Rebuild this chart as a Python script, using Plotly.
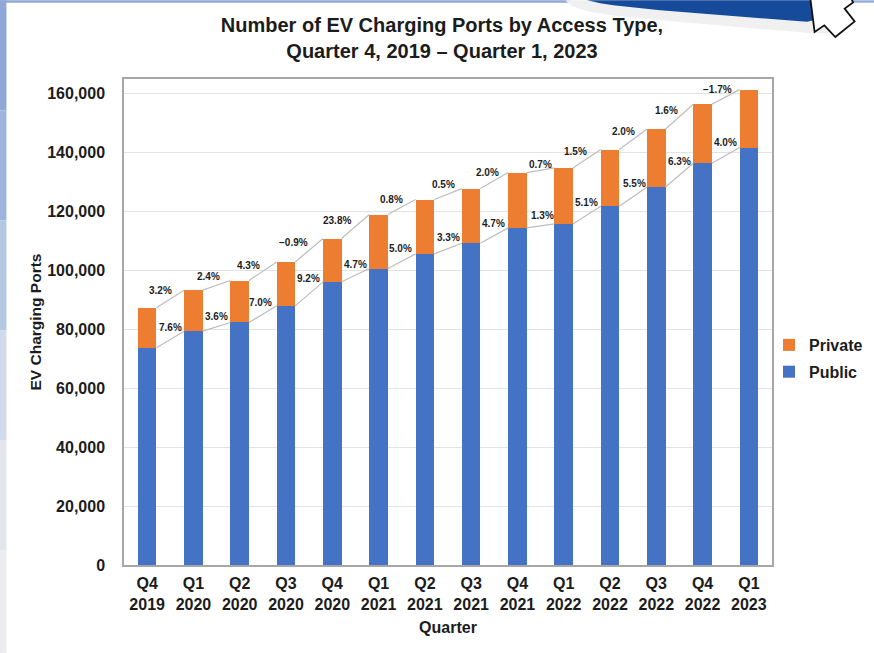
import plotly.graph_objects as go

quarters = ["Q4<br>2019", "Q1<br>2020", "Q2<br>2020", "Q3<br>2020", "Q4<br>2020", "Q1<br>2021", "Q2<br>2021",
            "Q3<br>2021", "Q4<br>2021", "Q1<br>2022", "Q2<br>2022", "Q3<br>2022", "Q4<br>2022", "Q1<br>2023"]
public = [73660, 79320, 82260, 87900, 96050, 100560, 105530, 109150, 114350, 115700, 121700, 128240, 136270, 141590]
total = [87220, 93220, 96500, 102800, 110730, 118870, 123960, 127680, 133120, 134690, 140900, 147900, 156270, 161250]
private = [t - p for t, p in zip(total, public)]

private_growth = ["3.2%", "2.4%", "4.3%", "−0.9%", "23.8%", "0.8%", "0.5%", "2.0%", "0.7%", "1.5%", "2.0%", "1.6%", "−1.7%"]
public_growth = ["7.6%", "3.6%", "7.0%", "9.2%", "4.7%", "5.0%", "3.3%", "4.7%", "1.3%", "5.1%", "5.5%", "6.3%", "4.0%"]

# label nudges from the connector midpoint, in pixels
top_dx = [-10, -8, -14, -16, -18, -10, -5, -7, 0, -11, -10, -13, -8]
top_dy = [8.5, 8.5, 6, 8, 6, 8, 10, 8, 6, 7.5, 8, 6.5, 7.5]
low_dx = [0, 0, -2, -1, 0, -1, 0, -1, 2, 0, 1, 0, 0]
low_dy = [12, 10, 12, 15, 11, 13, 11, 12, 10, 13, 13, 14, 13]

W, H = 874, 653
L, R, T, B = 124, 771.7, 78.7, 565
BLUE, ORANGE = "#4472C4", "#ED7D31"
FONT = "Liberation Sans, Arial, sans-serif"
INK = "#1c1c1c"
BAR_FRAC = 0.4


def px(x):
    return (x - L) / (R - L)


def py(y):
    return (B - y) / (B - T)


def poly(points, fill, line=None, width=0):
    d = "M" + " L".join(f"{px(a):.5f},{py(b):.5f}" for a, b in points) + " Z"
    return dict(type="path", xref="paper", yref="paper", path=d, fillcolor=fill,
                line=dict(color=line or fill, width=width), layer="above")


def box(x0, y0, x1, y1, fill):
    return dict(type="rect", xref="paper", yref="paper", x0=px(x0), x1=px(x1), y0=py(y0), y1=py(y1),
                fillcolor=fill, line=dict(width=0), layer="below")


fig = go.Figure()
xs = list(range(len(quarters)))
fig.add_bar(x=xs, y=public, name="<b>Public</b>", legendgroup="pub", legendrank=2,
            marker=dict(color=BLUE, line=dict(width=0)), width=BAR_FRAC)
fig.add_bar(x=xs, y=private, name="<b>Private</b>", legendgroup="pri", legendrank=1,
            marker=dict(color=ORANGE, line=dict(width=0)), width=BAR_FRAC)

for series in (total, public):
    cx, cy = [], []
    for i in range(len(series) - 1):
        cx += [i + BAR_FRAC / 2, i + 1 - BAR_FRAC / 2, None]
        cy += [series[i], series[i + 1], None]
    fig.add_scatter(x=cx, y=cy, mode="lines", line=dict(color="#BDBDBD", width=1.2),
                    showlegend=False, hoverinfo="skip")

annotations = []
for series, labels, dxs, dys in ((total, private_growth, top_dx, top_dy), (public, public_growth, low_dx, low_dy)):
    for i, text in enumerate(labels):
        annotations.append(dict(x=i + 0.5, y=(series[i] + series[i + 1]) / 2, xref="x", yref="y", text=f"<b>{text}</b>",
                                showarrow=False, xshift=dxs[i], yshift=dys[i], xanchor="center", yanchor="middle",
                                font=dict(family=FONT, size=10, color=INK)))

shapes = [
    # slide background peeking out at the left and top edges
    box(0, 0, 6.5, 110, "#8FA8D8"), box(0, 110, 6.5, 220, "#9DB5DE"), box(0, 220, 6.5, 330, "#B4C8E4"),
    box(0, 330, 6.5, 440, "#CFDAEA"), box(0, 440, 6.5, 550, "#E2E6EE"), box(0, 550, 6.5, 653, "#ECECF0"),
    box(0, 0, 570, 2.3, "#8FA8D8"), box(850, 0, W, 2.3, "#8FA8D8"),
    # callout ribbon at the top right
    poly([(565, 0), (572, 6), (587, 11), (610, 15), (660, 20), (813, 33), (830, 33), (830, 0)], "#F0F0F0"),
    poly([(587, 0), (600, 3), (613, 5), (660, 10), (800, 21), (807, 21.5), (813, 20), (813, 0)], "#164A9A"),
    poly([(810, -2), (814.3, 31.7), (824, 25), (835, 36.7), (854.3, 21), (844.3, 8.3), (852.7, 2), (851, -2)],
         "#FFFFFF", "#111111", 1.8),
]

fig.update_layout(
    width=W, height=H, autosize=False,
    margin=dict(l=L, r=W - R, t=T, b=H - B, pad=0, autoexpand=False),
    barmode="stack", paper_bgcolor="#FFFFFF", plot_bgcolor="#FFFFFF",
    font=dict(family=FONT, size=16, color=INK),
    title=dict(text="<b>Number of EV Charging Ports by Access Type,<br>Quarter 4, 2019 – Quarter 1, 2023</b>",
               x=442 / W, xanchor="center", y=1 - 32 / H, yanchor="middle",
               font=dict(family=FONT, size=20, color=INK)),
    xaxis=dict(range=[-0.5, 13.5], tickmode="array", tickvals=xs,
               ticktext=[f"<b>{q.replace('<br>', '</b><br><b>')}</b>" for q in quarters],
               ticks="", ticklabelstandoff=3, showgrid=False, zeroline=False, showline=True, linecolor="#A6A6A6",
               linewidth=1.5, mirror=True, automargin=False,
               title=dict(text="<b>Quarter</b>", font=dict(family=FONT, size=16, color=INK), standoff=10),
               tickfont=dict(family=FONT, size=16, color=INK)),
    yaxis=dict(range=[0, (B - T) / 0.00295], tickmode="array", tickvals=list(range(0, 160001, 20000)),
               ticktext=[f"<b>{v:,}</b>" for v in range(0, 160001, 20000)],
               ticks="", ticklabelstandoff=14, gridcolor="#E3E3E3", gridwidth=1.2, zeroline=False,
               showline=True, linecolor="#A6A6A6", linewidth=1.5, mirror=True, automargin=False,
               title=dict(text="<b>EV Charging Ports</b>", font=dict(family=FONT, size=15.5, color=INK), standoff=2),
               tickfont=dict(family=FONT, size=16, color=INK)),
    legend=dict(x=769 / W, xref="container", y=1 - 328 / H, yref="container", xanchor="left", yanchor="top",
                font=dict(family=FONT, size=16, color=INK), traceorder="grouped", tracegroupgap=3,
                bgcolor="rgba(0,0,0,0)", itemclick=False, itemdoubleclick=False),
    annotations=annotations, shapes=shapes, showlegend=True,
)

fig.write_html("out.html", config=dict(displayModeBar=False),
               post_script="document.body.style.margin='0';")
